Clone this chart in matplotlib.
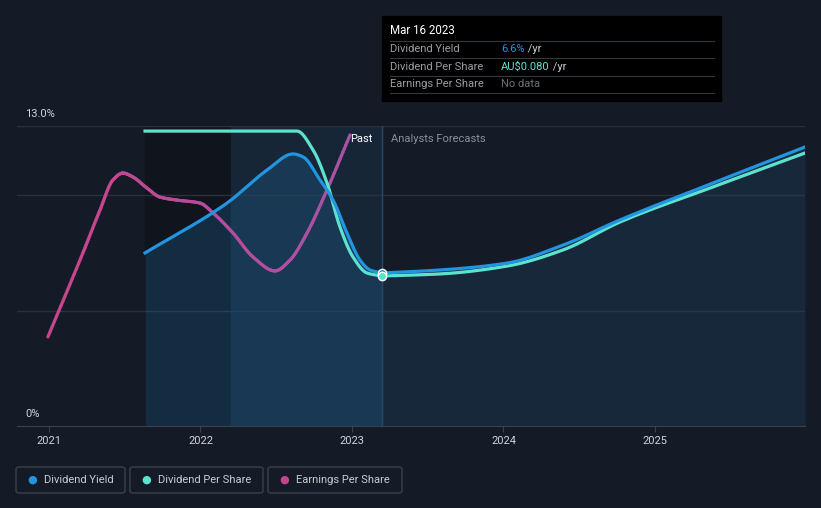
import matplotlib.pyplot as plt
import numpy as np
from matplotlib.patches import Rectangle, FancyBboxPatch

plt.rcParams['font.family'] = ['Roboto', 'DejaVu Sans']

# values (x in decimal years, y in % of chart scale)
dy_years = [2021.634, 2022.175, 2022.439, 2022.611, 2022.677, 2022.789, 2022.875,
            2022.967, 2023.053, 2023.119, 2023.198]
dy_vals = [7.50, 9.66, 11.09, 11.79, 11.66, 10.66, 9.79, 8.36, 7.19, 6.76, 6.63]
dy_fc_years = [2023.198, 2023.58, 2024.023, 2024.393, 2024.769, 2025.383, 2025.99]
dy_fc_vals = [6.63, 6.76, 7.06, 7.84, 8.93, 10.53, 12.09]

dps_years = [2021.634, 2022.637, 2022.743, 2022.835, 2022.921, 2023.007, 2023.099, 2023.198]
dps_vals = [12.78, 12.78, 11.96, 10.53, 8.62, 7.32, 6.63, 6.50]
dps_fc_years = [2023.198, 2023.58, 2024.023, 2024.393, 2024.769, 2025.383, 2025.99]
dps_fc_vals = [6.50, 6.59, 6.93, 7.63, 8.84, 10.36, 11.83]

eps_years = [2020.993, 2021.224, 2021.337, 2021.422, 2021.488, 2021.554, 2021.647,
             2021.733, 2021.845, 2021.997, 2022.083, 2022.215, 2022.347, 2022.492,
             2022.591, 2022.703, 2022.835, 2022.987]
eps_vals = [3.86, 7.50, 9.36, 10.66, 10.96, 10.79, 10.31, 9.92, 9.79, 9.66, 9.23,
            8.36, 7.32, 6.72, 7.19, 8.36, 10.23, 12.61]

year_ticks = [2021, 2022, 2023, 2024, 2025]
today = 2023.198


def smooth(xs, ys, n=16):
    # monotone cubic (Fritsch-Carlson) rendering of the read points
    x = np.asarray(xs, float)
    y = np.asarray(ys, float)
    h = np.diff(x)
    d = np.diff(y) / h
    m = np.zeros_like(y)
    m[0], m[-1] = d[0], d[-1]
    for i in range(1, len(y) - 1):
        if d[i - 1] * d[i] > 0:
            w1 = 2 * h[i] + h[i - 1]
            w2 = h[i] + 2 * h[i - 1]
            m[i] = (w1 + w2) / (w1 / d[i - 1] + w2 / d[i])
    ox, oy = [], []
    t = np.linspace(0, 1, n, endpoint=False)
    for i in range(len(x) - 1):
        h00 = 2 * t ** 3 - 3 * t ** 2 + 1
        h10 = t ** 3 - 2 * t ** 2 + t
        h01 = -2 * t ** 3 + 3 * t ** 2
        h11 = t ** 3 - t ** 2
        ox.extend(x[i] + t * h[i])
        oy.extend(h00 * y[i] + h10 * h[i] * m[i] + h01 * y[i + 1] + h11 * h[i] * m[i + 1])
    ox.append(x[-1])
    oy.append(y[-1])
    return np.array(ox), np.array(oy)


W, H = 821, 508
bg = '#151b26'
fig = plt.figure(figsize=(W / 100, H / 100), dpi=100, facecolor=bg)
ax = fig.add_axes([17 / W, (H - 426) / H, (805 - 17) / W, 300 / H])
ax.set_facecolor(bg)
ax.set_xlim(2020.789, 2025.99)
ax.set_ylim(0, 13)

# shaded regions
ax.axvspan(dy_years[0], 2022.2, color='#10141c', zorder=0)
ax.axvspan(2022.2, today, color='#172636', zorder=0)

for yv in [5, 10, 13]:
    ax.axhline(yv, color='#2a313c', lw=1, zorder=1)

bx, by = smooth(dy_years, dy_vals)
ax.fill_between(bx, 0, by, color='#1d5a8a', alpha=0.35, lw=0, zorder=1)
fx, fy = smooth(dy_fc_years, dy_fc_vals)
ax.fill_between(fx, 0, fy, color='#1b3a55', alpha=0.45, lw=0, zorder=1)

ax.axvline(today, color='#24496a', lw=1, zorder=2)

ex, ey = smooth(eps_years, eps_vals)
for i in range(len(ex) - 1):
    f = i / (len(ex) - 1)
    c = (0.78 - 0.12 * f, 0.27 + 0.05 * f, 0.55 + 0.1 * f)
    ax.plot(ex[i:i + 2], ey[i:i + 2], color=c, lw=2.3, solid_capstyle='round', zorder=3)

dx, dyy = smooth(dps_years, dps_vals)
ax.plot(dx, dyy, color='#5ce3cf', lw=2.3, zorder=4)
ax.plot(bx, by, color='#2394df', lw=2.3, zorder=5)
gx, gy = smooth(dps_fc_years, dps_fc_vals)
ax.plot(gx, gy, color='#5ce3cf', lw=2.3, zorder=4)
ax.plot(fx, fy, color='#2394df', lw=2.3, zorder=5)

ax.plot([today], [dy_vals[-1]], 'o', ms=6, mfc='#2394df', mec='white', mew=1, zorder=6)
ax.plot([today], [dps_vals[-1]], 'o', ms=6, mfc='#5ce3cf', mec='white', mew=1, zorder=6)

ax.text(2022.99, 12.45, 'Past', color='white', fontsize=8, va='center', zorder=7)
ax.text(2023.26, 12.45, 'Analysts Forecasts', color='#8a9099', fontsize=8, va='center', zorder=7)

for s in ['top', 'right', 'left']:
    ax.spines[s].set_visible(False)
ax.spines['bottom'].set_color('#3a414c')
ax.set_yticks([])
ax.set_xticks(year_ticks)
ax.set_xticklabels([str(y) for y in year_ticks])
ax.tick_params(axis='x', colors='#3a414c', labelcolor='#d0d4da', labelsize=8, length=4)

fig.text(25 / W, 1 - 114 / H, '13.0%', color='#d0d4da', fontsize=8, va='center')
fig.text(25 / W, 1 - 414 / H, '0%', color='#d0d4da', fontsize=8, va='center')

# tooltip
fig.patches.append(Rectangle((382 / W, 1 - 101 / H), 339 / W, 85 / H,
                             transform=fig.transFigure, color='black', zorder=10))
fig.text(390 / W, 1 - 31 / H, 'Mar 16 2023', color='white', fontsize=8.3, va='center', zorder=11)
rows = [('Dividend Yield', '6.6%', '#2394df', ' /yr'),
        ('Dividend Per Share', 'AU$0.080', '#5ce3cf', ' /yr'),
        ('Earnings Per Share', 'No data', '#6b717a', '')]
for i, (lab, val, col, unit) in enumerate(rows):
    yy = 49 + i * 17.5
    fig.lines.append(plt.Line2D([390 / W, 714 / W], [1 - (yy - 8.5) / H] * 2,
                                transform=fig.transFigure, color='#33373d', lw=0.8, zorder=11))
    fig.text(390 / W, 1 - yy / H, lab, color='#9a9ea5', fontsize=8, va='center', zorder=11)
    t = fig.text(501 / W, 1 - yy / H, val, color=col, fontsize=8, va='center', zorder=11)
    if unit:
        fig.canvas.draw()
        bb = t.get_window_extent()
        fig.text(bb.x1 / W, 1 - yy / H, unit, color='#c8ccd2', fontsize=8, va='center', zorder=11)
fig.lines.append(plt.Line2D([390 / W, 714 / W], [1 - 92.5 / H] * 2,
                            transform=fig.transFigure, color='#33373d', lw=0.8, zorder=11))

# legend
legend = [('Dividend Yield', '#2394df', 16, 125), ('Dividend Per Share', '#5ce3cf', 130, 263),
          ('Earnings Per Share', '#c2448a', 268, 402)]
for lab, col, x0, x1 in legend:
    fig.patches.append(FancyBboxPatch((x0 / W, 1 - 493 / H), (x1 - x0) / W, 26 / H,
                                      boxstyle='round,pad=0,rounding_size=0.004',
                                      transform=fig.transFigure, fc='none', ec='#3a414c', lw=1))
    fig.text((x0 + 16) / W, 1 - 480 / H, '●', color=col, fontsize=8, va='center', ha='center')
    fig.text((x0 + 28) / W, 1 - 480 / H, lab, color='#c8ccd2', fontsize=8, va='center')

fig.savefig('out.png', dpi=100, facecolor=bg)
